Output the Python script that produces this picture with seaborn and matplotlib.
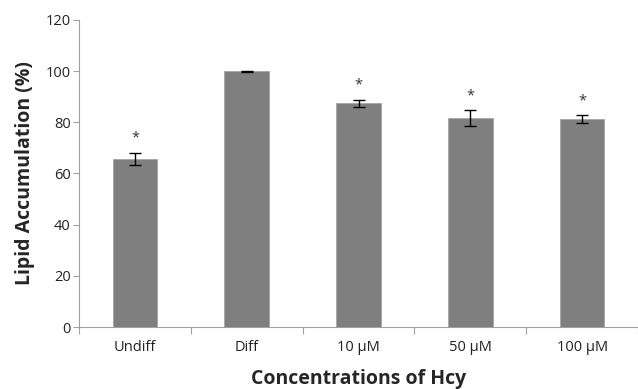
import numpy as np
import pandas as pd
import matplotlib
matplotlib.use("Agg")
import matplotlib.pyplot as plt
import seaborn as sns

# --- data ---
groups = ["Undiff", "Diff", "10 µM", "50 µM", "100 µM"]
lipid_pct = [65.8, 100.0, 87.4, 81.7, 81.3]
lipid_err = [2.3, 0.2, 1.4, 3.0, 1.4]
significant = [True, False, True, True, True]

df = pd.DataFrame({"group": groups, "lipid": lipid_pct, "err": lipid_err})

sns.set_style("white")
plt.rcParams["font.family"] = ["Open Sans", "DejaVu Sans"]

fig = plt.figure(figsize=(6.38, 3.89), dpi=100)
ax = fig.add_axes([0.124, 0.159, 0.876, 0.79])

sns.barplot(data=df, x="group", y="lipid", color="#7f7f7f", saturation=1,
            width=0.4, errorbar=None, edgecolor="#a6a6a6", linewidth=0.6, ax=ax)

xpos = np.arange(len(groups))
ax.errorbar(xpos, df["lipid"], yerr=df["err"], fmt="none", ecolor="black",
            elinewidth=1.0, capsize=4, capthick=1.0)

# significance stars above the error bars
for x, v, e, s in zip(xpos, lipid_pct, lipid_err, significant):
    if s:
        ax.annotate("*", (x, v + e), xytext=(0, 5), textcoords="offset points",
                    ha="center", va="bottom", fontsize=10.5, color="#333333")

ax.set_ylim(0, 120)
ax.set_yticks(np.arange(0, 121, 20))
ax.set_xlim(-0.5, len(groups) - 0.5)

# x ticks sit between categories, labels centred under bars
ax.set_xticks(xpos)
ax.set_xticks(np.arange(-0.5, len(groups), 1.0), minor=True)
ax.tick_params(axis="x", which="major", length=0, labelsize=10.5, pad=9,
               labelcolor="#222222")
ax.tick_params(axis="x", which="minor", direction="out", length=5,
               color="#a0a0a0", width=0.8, bottom=True)
ax.tick_params(axis="y", direction="out", length=4, color="#a0a0a0",
               width=0.8, labelsize=10.5, left=True, pad=2, labelcolor="#222222")

for side in ["top", "right"]:
    ax.spines[side].set_visible(False)
for side in ["left", "bottom"]:
    ax.spines[side].set_color("#a0a0a0")
    ax.spines[side].set_linewidth(0.8)

ax.set_xlabel("Concentrations of Hcy", fontsize=14, fontweight="bold", labelpad=10)
ax.set_ylabel("Lipid Accumulation (%)", fontsize=14, fontweight="bold", labelpad=8)

fig.savefig("out.png", dpi=100)
